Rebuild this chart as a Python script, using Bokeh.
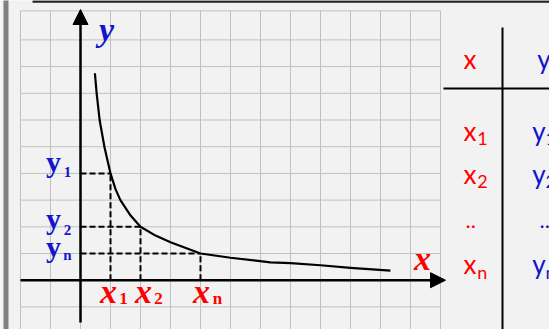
from bokeh.plotting import figure
from bokeh.models import Range1d, Arrow, NormalHead
from bokeh.core.properties import value
from bokeh.embed import file_html
from bokeh.resources import INLINE

# Curve y = f(x), sampled in grid units (one grid cell = one unit)
curve_x = [0.48, 0.54, 0.64, 0.80, 1.0, 1.17, 1.33, 1.67, 2.0, 2.5, 3.0, 4.0, 5.0, 6.33, 7.0, 8.0, 9.0, 10.33]
curve_y = [7.75, 6.98, 5.98, 4.98, 4.0, 3.40, 3.0, 2.42, 2.0, 1.67, 1.42, 1.0, 0.84, 0.67, 0.64, 0.56, 0.46, 0.36]

# Highlighted points (x1, y1), (x2, y2), (xn, yn)
pt_x = [1, 2, 4]
pt_y = [4, 2, 1]
subscripts = ["1", "2", "n"]

# Table of values
table_rows = ["1", "2", "..", "n"]

W, H = 549, 329
OX, OY = 80.0, 279.7      # pixel position of the origin
UX, UY = 30.0, 26.7       # pixels per grid unit


def dx(px):
    return (px - OX) / UX


def dy(py):
    return (OY - py) / UY


RED = "#ff0000"
BLUE = "#1414cc"
SERIF = "Liberation Serif"
SANS = "Lato"
# the alphabetic baseline lands this fraction of the font size too low
BASE_FIX = {SERIF: 0.35, SANS: 0.375}

p = figure(width=W, height=H, output_backend="svg", toolbar_location=None,
           x_range=Range1d(dx(0), dx(W)), y_range=Range1d(dy(H), dy(0)),
           min_border=0, background_fill_color="#f2f2f2",
           border_fill_color="#f2f2f2", outline_line_color=None)
p.axis.visible = False
p.grid.visible = False

# squared paper
gx = list(range(-2, 13))
gy = list(range(-2, 10))
top = dy(10.3)
p.segment(x0=gx, y0=[-2.5] * len(gx), x1=gx, y1=[top] * len(gx),
          line_color="#c0c0c0", line_width=1)
p.segment(x0=[-2] * (len(gy) + 1), y0=gy + [top], x1=[12] * (len(gy) + 1), y1=gy + [top],
          line_color="#c0c0c0", line_width=1)

# page edge and frame line
p.quad(left=[dx(3)], right=[dx(8)], bottom=[dy(H + 5)], top=[dy(-5)],
       fill_color="#808080", line_color=None)
p.line(x=[dx(32), dx(W + 5)], y=[dy(1), dy(1)], line_color="#222222", line_width=2.5)

# axes with arrow heads
p.add_layout(Arrow(end=NormalHead(size=15, fill_color="black", line_color="black"),
                   x_start=-2, y_start=0, x_end=dx(445), y_end=0,
                   line_color="black", line_width=2.5))
p.add_layout(Arrow(end=NormalHead(size=15, fill_color="black", line_color="black"),
                   x_start=0, y_start=dy(322), x_end=0, y_end=dy(9),
                   line_color="black", line_width=2.5))

# dashed guides from the points to the axes
p.segment(x0=pt_x, y0=[0] * 3, x1=pt_x, y1=pt_y, line_color="black",
          line_width=2, line_dash="6 3")
p.segment(x0=[0] * 3, y0=pt_y, x1=pt_x, y1=pt_y, line_color="black",
          line_width=2, line_dash="6 3")

# the curve
p.line(x=curve_x, y=curve_y, line_color="black", line_width=2.2, line_join="round")


def label(x, y, s, font, size, color, style="normal", align="left", xo=0, yo=0):
    """Text whose baseline sits yo pixels below (x, y)."""
    p.text(x=[x], y=[y], text=[s], x_offset=xo, y_offset=yo - BASE_FIX[font] * size,
           text_font=value(font), text_font_size=f"{size}px", text_font_style=style,
           text_color=color, text_align=align, text_baseline="alphabetic")


# axis names
label(dx(106), dy(41), "y", SERIF, 34, BLUE, "bold italic", "center")
label(dx(422), dy(269.5), "x", SERIF, 34, RED, "bold italic", "center")

# x labels under the axis
base_off = [-2, 3, 1]
sub_off = [13, 18, 17]
for xv, s, bo, so in zip(pt_x, subscripts, base_off, sub_off):
    label(xv, 0, "x", SERIF, 34, RED, "bold italic", "center", bo, 23)
    label(xv, 0, s, SERIF, 17, RED, "bold", "center", so, 24)

# y labels left of the axis
ybase_off = [-1.4, 1.9, 3.5]
ysub_off = [3.8, 8.7, 7.0]
for yv, s, bo, so in zip(pt_y, subscripts, ybase_off, ysub_off):
    label(0, yv, "y", SERIF, 30, BLUE, "bold", "center", -27, bo)
    label(0, yv, s, SERIF, 15, BLUE, "bold", "center", -13, so)

# table of values
p.line(x=[dx(502), dx(502)], y=[dy(27), dy(H + 5)], line_color="black", line_width=2)
p.line(x=[dx(443), dx(W + 5)], y=[dy(88), dy(88)], line_color="black", line_width=2)
label(dx(469.5), dy(68.3), "x", SANS, 26, RED, align="center")
label(dx(536.7), dy(68), "y", SANS, 26, BLUE)

row_base = [140, 183.3, 228.5, 273.3]
for s, b in zip(table_rows, row_base):
    if s == "..":
        label(dx(465), dy(b), "..", SANS, 22, RED)
        label(dx(539), dy(b), "..", SANS, 22, BLUE)
        continue
    label(dx(463), dy(b), "x", SANS, 26, RED)
    label(dx(476.7), dy(b + 4.5), s, SANS, 18, RED)
    label(dx(531.7), dy(b), "y", SANS, 26, BLUE)
    label(dx(545), dy(b + 4.5), s, SANS, 18, BLUE)

open("out.html", "w").write(file_html(p, INLINE))
